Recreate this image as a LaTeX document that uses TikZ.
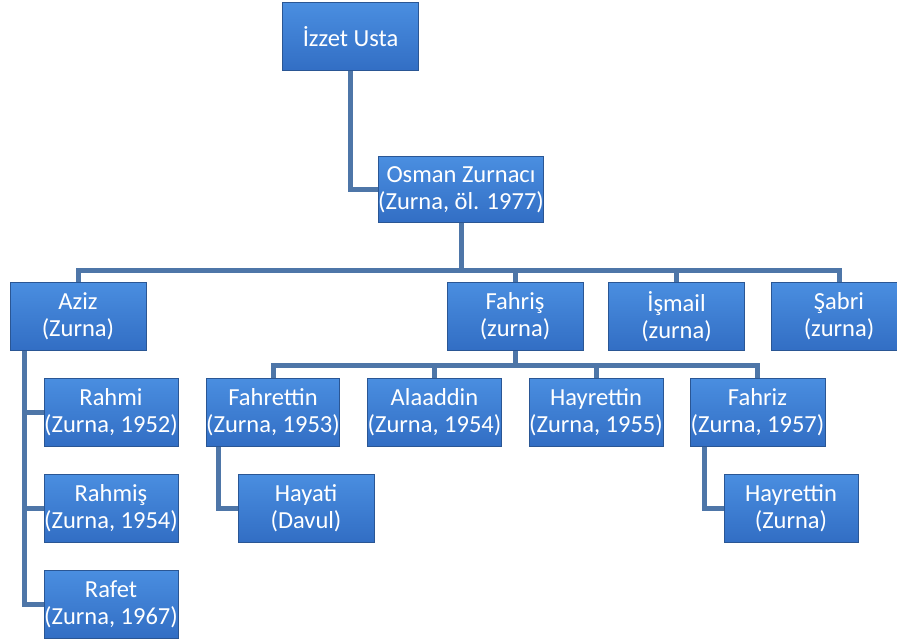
\documentclass[tikz,border=0pt]{standalone}
\usepackage{fontspec}
\setmainfont{Carlito}
\usetikzlibrary{positioning,backgrounds}

\definecolor{boxtop}{RGB}{74,142,224}
\definecolor{boxbot}{RGB}{50,110,196}
\definecolor{boxedge}{RGB}{42,86,148}
\definecolor{linkblue}{RGB}{78,118,168}

\tikzset{
  person/.style={shade, top color=boxtop, bottom color=boxbot, draw=boxedge,
    line width=1pt, minimum width=136pt, minimum height=68pt, inner sep=0pt,
    align=center, text=white, font=\fontsize{24.5}{27}\selectfont},
  link/.style={draw=linkblue, line width=5pt}
}

\begin{document}
\begin{tikzpicture}[x=1pt, y=-1pt]
 \useasboundingbox (0,0) rectangle (897,639);
 % boxes
 \node[person] (izzet) at (350.5,37) {İzzet Usta};
 \node[person, minimum height=66pt] (osman) at (461,190) {Osman Zurnacı\\(Zurna, öl. 1977)};
 \node[person] (aziz) at (78,316) {Aziz\\(Zurna)};
 \node[person] (fahris) at (515,316) {Fahriş\\(zurna)};
 \node[person] (ismail) at (676.5,316.5) {İşmail\\(zurna)};
 \node[person] (sabri) at (839,316.5) {Şabri\\(zurna)};
 \node[person, minimum width=134pt] (rahmi) at (111,412) {Rahmi\\(Zurna, 1952)};
 \node[person, minimum width=134pt] (rahmis) at (111,508) {Rahmiş\\(Zurna, 1954)};
 \node[person, minimum width=134pt] (rafet) at (111,604) {Rafet\\(Zurna, 1967)};
 \node[person, minimum width=133pt] (fahrettin) at (273,412) {Fahrettin\\(Zurna, 1953)};
 \node[person, minimum width=133pt] (alaaddin) at (434.5,412) {Alaaddin\\(Zurna, 1954)};
 \node[person, minimum width=134pt] (hayrettin) at (596,412) {Hayrettin\\(Zurna, 1955)};
 \node[person, minimum width=135pt] (fahriz) at (757.5,412) {Fahriz\\(Zurna, 1957)};
 \node[person] (hayati) at (306,508) {Hayati\\(Davul)};
 \node[person, minimum width=134pt] (hayrettinb) at (791,508) {Hayrettin\\(Zurna)};
 % lines
 \coordinate (busA) at (osman.south |- 0,270);
 \coordinate (busB) at (fahris.south |- 0,365);
 \begin{scope}[on background layer]
 \path[link] (izzet.south) |- (osman.west);
 \path[link] (osman.south) -- (busA);
 \foreach \kid in {aziz,fahris,ismail,sabri}
  \path[link] (busA) -| (\kid.north);
 \path[link] (fahris.south) -- (busB);
 \foreach \kid in {fahrettin,alaaddin,hayrettin,fahriz}
  \path[link] (busB) -| (\kid.north);
 \foreach \kid in {rahmi,rahmis,rafet}
  \path[link] ([xshift=15pt]aziz.south west) |- (\kid.west);
 \path[link] ([xshift=13pt]fahrettin.south west) |- (hayati.west);
 \path[link] ([xshift=15pt]fahriz.south west) |- (hayrettinb.west);
 \end{scope}
\end{tikzpicture}
\end{document}
